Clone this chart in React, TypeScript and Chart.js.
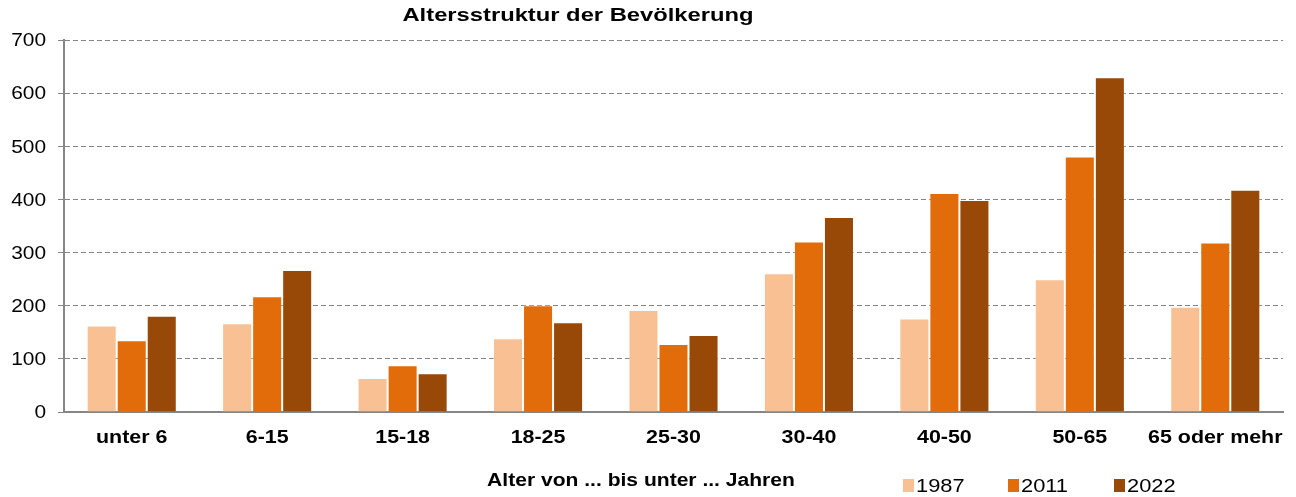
import React, { useEffect, useRef } from "react";
import { Chart, registerables } from "chart.js";

Chart.register(...registerables);

const categories = ["unter 6", "6-15", "15-18", "18-25", "25-30", "30-40", "40-50", "50-65", "65 oder mehr"];
const values1987 = [163, 167, 64, 139, 192, 261, 176, 250, 198];
const values2011 = [135, 218, 88, 201, 128, 321, 412, 481, 319];
const values2022 = [181, 267, 73, 169, 145, 367, 399, 630, 418];
const seriesLabels = ["1987", "2011", "2022"];
const seriesColors = ["#F9C093", "#E36C0A", "#984807"];
const yTicks = [0, 100, 200, 300, 400, 500, 600, 700];
const chartTitle = "Altersstruktur der Bevölkerung";
const xTitle = "Alter von ... bis unter ... Jahren";

const font = "'Liberation Sans', Arial, sans-serif";

function stretchedText(ctx: any, text: string, x: number, y: number, sx: number, align: "left" | "center" | "right") {
  ctx.save();
  ctx.translate(x, y);
  ctx.scale(sx, 1);
  ctx.textAlign = align;
  ctx.fillText(text, 0, 0);
  ctx.restore();
}

const overlay = {
  id: "overlay",
  afterDraw(chart: any) {
    const ctx = chart.ctx;
    const xs = chart.scales.x;
    const ys = chart.scales.y;
    ctx.save();
    ctx.fillStyle = "#000";
    ctx.textBaseline = "middle";
    // title
    ctx.font = `bold 19px ${font}`;
    stretchedText(ctx, chartTitle, 578, 16, 1.25, "center");
    // y tick labels
    ctx.font = `19px ${font}`;
    yTicks.forEach((v) => {
      stretchedText(ctx, String(v), 46, ys.getPixelForValue(v) + 1, 1.1, "right");
    });
    // x tick labels
    ctx.font = `bold 18px ${font}`;
    categories.forEach((c, i) => {
      stretchedText(ctx, c, xs.getPixelForValue(i), 438, 1.19, "center");
    });
    // x title
    ctx.font = `bold 18px ${font}`;
    stretchedText(ctx, xTitle, 641, 481, 1.17, "center");
    // legend
    const legendX = [903, 1008, 1114];
    chart.data.datasets.forEach((ds: any, i: number) => {
      const x = legendX[i];
      ctx.fillStyle = ds.backgroundColor;
      ctx.fillRect(x, 479, 11, 13);
      ctx.fillStyle = "#000";
      ctx.font = `19px ${font}`;
      stretchedText(ctx, ds.label, x + 13, 487, 1.15, "left");
    });
    ctx.restore();
  },
};

export default function App() {
  const ref = useRef<HTMLCanvasElement>(null);
  useEffect(() => {
    document.body.style.margin = "0";
    const chart = new Chart(ref.current!, {
      type: "bar",
      data: {
        labels: categories,
        datasets: [values1987, values2011, values2022].map((d, i) => ({
          label: seriesLabels[i],
          data: d,
          backgroundColor: seriesColors[i],
          borderColor: "rgba(255,255,255,0.35)",
          borderWidth: 1,
          categoryPercentage: 0.665,
          barPercentage: 1.0,
        })),
      },
      options: {
        animation: false,
        responsive: false,
        maintainAspectRatio: false,
        layout: { padding: { top: 40, right: 13, left: 0, bottom: 0 } },
        plugins: {
          legend: { display: false },
          title: { display: false },
          tooltip: { enabled: false },
        },
        scales: {
          x: {
            grid: { display: false },
            border: { display: true, color: "#868686", width: 2 },
            ticks: { display: false },
            afterFit(scale: any) {
              scale.height = 497 - 412;
            },
          },
          y: {
            min: 0,
            max: 700,
            afterBuildTicks(scale: any) {
              scale.ticks = yTicks.map((v) => ({ value: v }));
            },
            grid: {
              color: "#858585",
              lineWidth: 1,
              tickLength: 6,
              tickBorderDash: [],
              drawTicks: true,
            },
            border: { display: true, color: "#868686", width: 2, dash: [5, 3] },
            ticks: { display: false },
            afterFit(scale: any) {
              scale.width = 64;
            },
          },
        },
      } as any,
      plugins: [overlay],
    });
    return () => chart.destroy();
  }, []);
  return <canvas ref={ref} width={1296} height={497} style={{ display: "block" }} />;
}
